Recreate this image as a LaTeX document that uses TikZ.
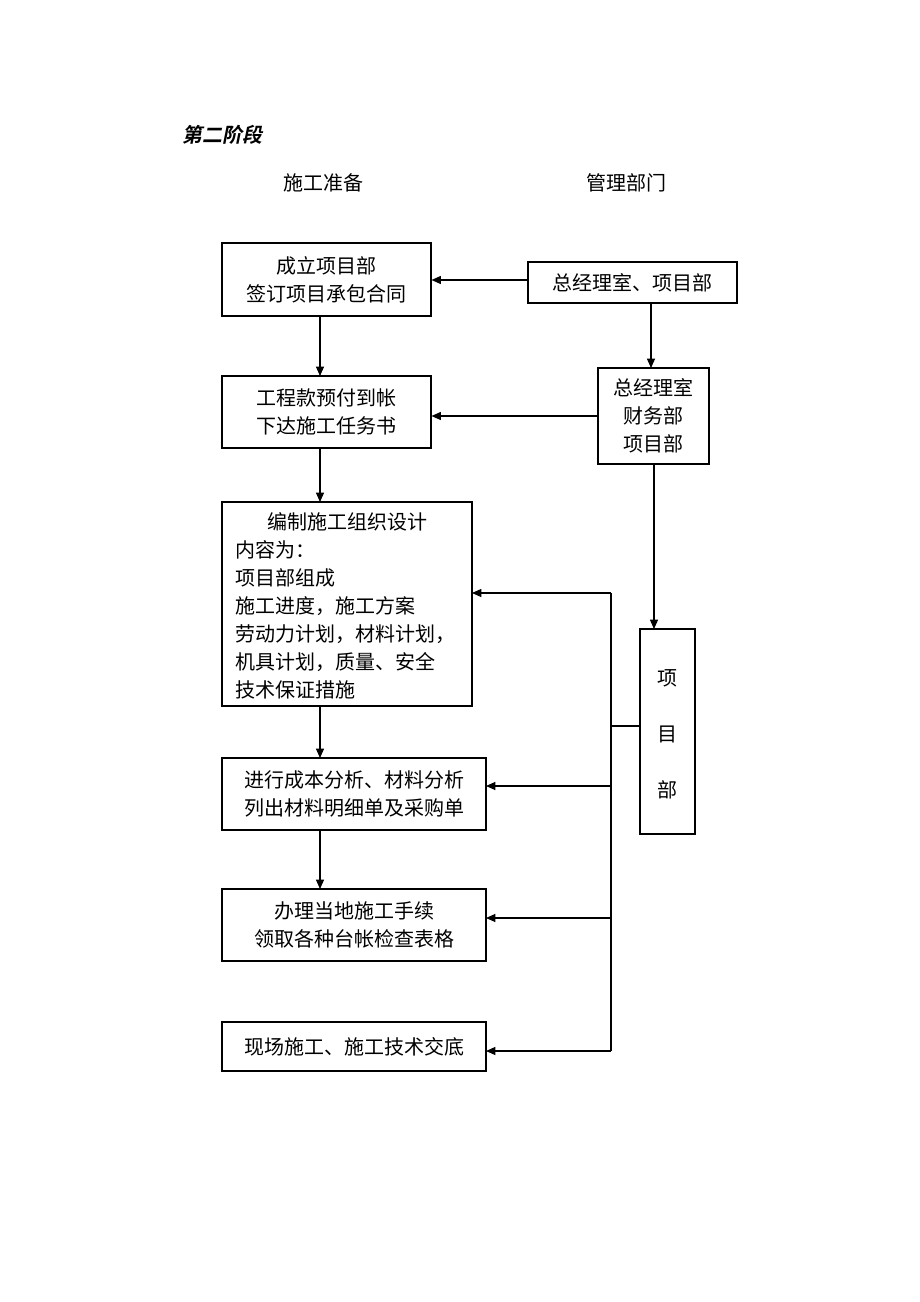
\documentclass[tikz,border=0pt]{standalone}
\usepackage{fontspec}
\newfontfamily\cjk{Noto Sans CJK SC}
\newfontfamily\cjkslant[FakeSlant=0.2]{Noto Sans CJK SC Bold}
\usetikzlibrary{fit,arrows.meta}
\begin{document}
\begin{tikzpicture}[x=0.75pt,y=-0.75pt,
  box/.style={draw,line width=0.8pt,inner sep=0pt},
  txt/.style={font=\cjk\fontsize{15}{21}\selectfont,align=center,inner sep=0pt},
  arr/.style={-{Triangle[length=7pt,width=6pt]},line width=0.8pt},
  ln/.style={line width=0.8pt}]
\useasboundingbox (0,0) rectangle (920,1302);
\node[font=\cjkslant\fontsize{15}{18}\selectfont,anchor=west,inner sep=0pt] (t) at (182,135) {第二阶段};
\node[txt] (h1) at (323,183) {施工准备};
\node[txt] (h2) at (626,183) {管理部门};

\node[box,fit={(222,243)(431,316)}] (b1) {};
\node[txt] (b1t) at (b1) {成立项目部\\签订项目承包合同};
\node[box,fit={(528,262)(737,303)}] (m1) {};
\node[txt] (m1t) at (m1) {总经理室、项目部};
\node[box,fit={(222,376)(431,448)}] (b2) {};
\node[txt] (b2t) at (b2) {工程款预付到帐\\下达施工任务书};
\node[box,fit={(598,368)(709,464)}] (m2) {};
\node[txt] (m2t) at (m2) {总经理室\\财务部\\项目部};
\node[box,fit={(222,502)(472,706)}] (b3) {};
\node[txt,align=left,anchor=north west] (b3t) at (235,512) {\hspace*{24pt}编制施工组织设计\\内容为：\\项目部组成\\施工进度，施工方案\\劳动力计划，材料计划，\\机具计划，质量、安全\\技术保证措施};
\node[box,fit={(640,629)(695,834)}] (m3) {};
\node[txt,font=\cjk\fontsize{15}{42}\selectfont] (m3t) at (667,734) {项\\目\\部};
\node[box,fit={(222,758)(486,830)}] (b4) {};
\node[txt] (b4t) at (b4) {进行成本分析、材料分析\\列出材料明细单及采购单};
\node[box,fit={(222,889)(486,961)}] (b5) {};
\node[txt] (b5t) at (b5) {办理当地施工手续\\领取各种台帐检查表格};
\node[box,fit={(222,1022)(486,1071)}] (b6) {};
\node[txt] (b6t) at (b6) {现场施工、施工技术交底};

\coordinate (m1w) at (528,280);
\draw[arr] (m1w) -- (m1w -| b1.east);
\draw[arr] (651,303) -- (651,368);
\draw[arr] (m2.west) -- (m2.west -| b2.east);
\draw[arr] (654,464) -- (654,629);
\draw[arr] (320,316) -- (320,376);
\draw[arr] (320,448) -- (320,502);
\draw[arr] (320,706) -- (320,758);
\draw[arr] (320,830) -- (320,889);
\coordinate (bt) at (611,593);
\coordinate (bb) at (611,1051);
\coordinate (mj) at (640,726);
\draw[ln] (bt) -- (bb);
\draw[ln] (mj) -- (611,726);
\draw[arr] (bt) -- (472,593);
\draw[arr] (611,786) -- (486,786);
\draw[arr] (611,918) -- (486,918);
\draw[arr] (bb) -- (486,1051);
\end{tikzpicture}
\end{document}
